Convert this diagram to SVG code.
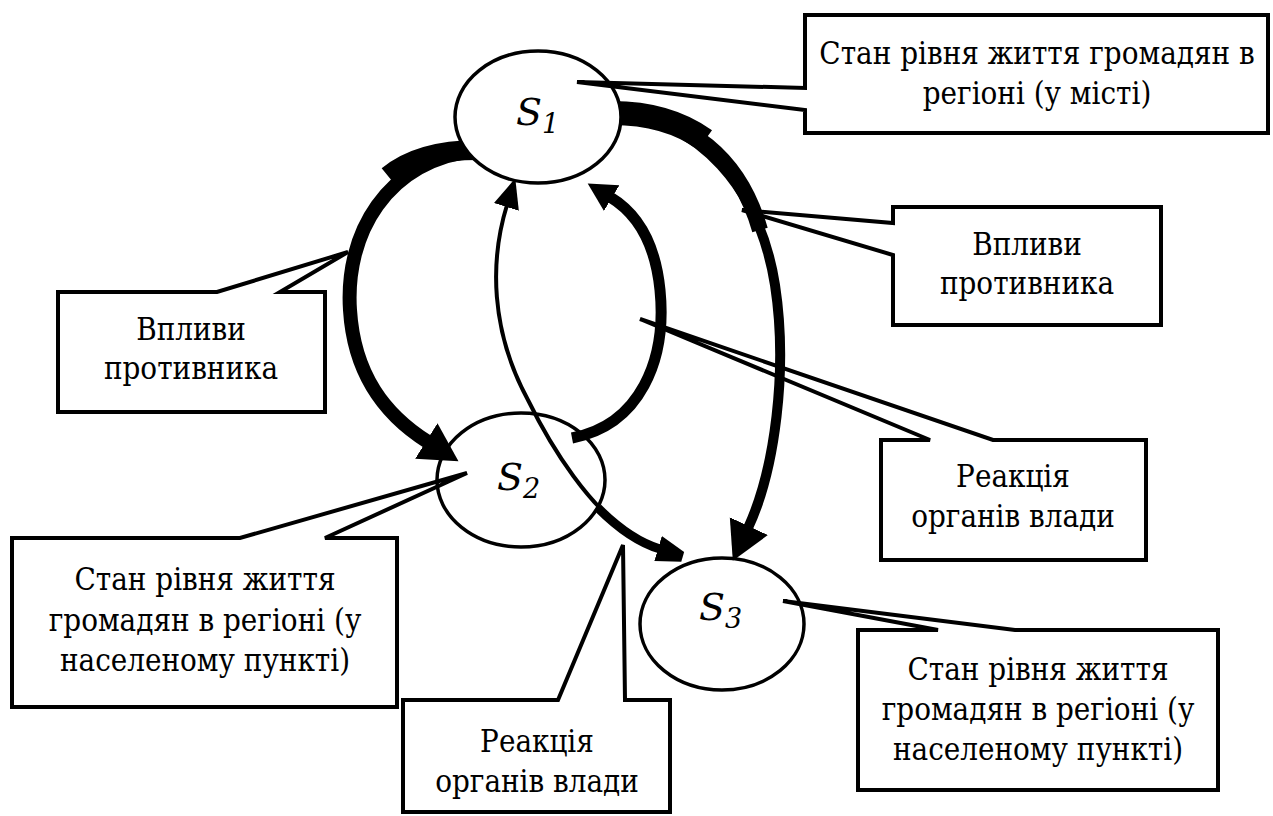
<svg xmlns="http://www.w3.org/2000/svg" width="1273" height="816" viewBox="0 0 1273 816">
<defs>
<style>
.body{fill:#fff;stroke:none}
.outline{fill:none;stroke:#000;stroke-width:4;stroke-linejoin:miter}
.ell{fill:#fff;stroke:#000;stroke-width:3.5}
.lbl{font-family:"DejaVu Serif Condensed","DejaVu Serif",serif;font-size:31px;fill:#000;text-anchor:middle}
.st{font-family:"DejaVu Serif","Liberation Serif",serif;font-style:italic;font-size:38px;fill:#000}
.sub{font-size:27px}
.arc{fill:none;stroke:#000;stroke-linecap:butt}
</style>
<marker id="hBig" markerUnits="userSpaceOnUse" markerWidth="42" markerHeight="46" viewBox="0 -23 42 46" refX="2" refY="0" orient="auto"><path d="M0,-21 L38,0 L0,21 Z"/></marker>
<marker id="hMid" markerUnits="userSpaceOnUse" markerWidth="32" markerHeight="34" viewBox="0 -17 32 34" refX="2" refY="0" orient="auto"><path d="M0,-15 L28,0 L0,15 Z"/></marker>
<marker id="hSmall" markerUnits="userSpaceOnUse" markerWidth="32" markerHeight="30" viewBox="0 -15 32 30" refX="2" refY="0" orient="auto-start-reverse"><path d="M0,-13 L30,0 L0,13 Z"/></marker>
<marker id="hBlock" markerUnits="userSpaceOnUse" markerWidth="30" markerHeight="30" viewBox="0 -15 30 30" refX="2" refY="0" orient="auto"><path d="M0,-13 L26,-4 L26,6 L0,13 Z"/></marker>
</defs>
<rect width="1273" height="816" fill="#fff"/>

<g id="node-s2">
<ellipse class="ell" cx="521" cy="480" rx="84" ry="67"/>
<text class="st" x="497" y="490">S<tspan class="sub" dy="8">2</tspan></text>
</g>
<g id="node-s3">
<ellipse class="ell" cx="722" cy="624" rx="82" ry="66"/>
<text class="st" x="699" y="620">S<tspan class="sub" dy="8">3</tspan></text>
</g>

<g id="connectors">
<path class="arc" stroke-width="20" d="M 478,150 C 440,150 410,158 388,176"/>
<path class="arc" stroke-width="14" d="M 478,150 C 385,160 345,235 350,310 C 354,375 385,415 428,442" marker-end="url(#hBig)"/>
<path class="arc" stroke-width="11" d="M 572,438 C 640,425 667,360 660,290 C 655,240 635,212 610,197" marker-end="url(#hMid)"/>
<path class="arc" stroke-width="24" d="M 612,113 C 650,113 680,122 705,140"/>
<path class="arc" stroke-width="16" d="M 612,113 C 690,115 740,160 760,230"/>
<path class="arc" stroke-width="10" d="M 612,113 C 700,118 760,190 775,285 C 788,370 775,470 748,528" marker-end="url(#hBig)"/>
<path class="arc" stroke-width="4" d="M 507,205 C 490,260 490,330 528,400 C 555,455 590,505 625,530 C 643,542 650,546 660,549" marker-start="url(#hSmall)"/>
<path class="arc" stroke-width="9" d="M 598,508 C 618,528 640,543 660,549" marker-end="url(#hBlock)"/>
</g>

<g id="node-s1">
<ellipse class="ell" cx="538" cy="117" rx="83" ry="66"/>
<text class="st" x="516" y="125">S<tspan class="sub" dy="8">1</tspan></text>
</g>

<g id="callout-top-right">
<rect class="body" x="805" y="15" width="463" height="118"/>
<path class="outline" d="M 805,88 L 805,15 L 1268,15 L 1268,133 L 805,133 L 805,110 L 577,82 Z"/>
<text class="lbl" x="1037" y="64">Стан рівня життя громадян в</text>
<text class="lbl" x="1037" y="104">регіоні (у місті)</text>
</g>

<g id="callout-left-influence">
<rect class="body" x="58" y="292" width="267" height="120"/>
<path class="outline" d="M 58,292 L 217,292 L 348,252 L 280,292 L 325,292 L 325,412 L 58,412 Z"/>
<text class="lbl" x="191" y="340">Впливи</text>
<text class="lbl" x="191" y="379">противника</text>
</g>

<g id="callout-right-influence">
<rect class="body" x="893" y="207" width="268" height="118"/>
<path class="outline" d="M 893,223 L 893,207 L 1161,207 L 1161,325 L 893,325 L 893,255 L 742,210 Z"/>
<text class="lbl" x="1027" y="255">Впливи</text>
<text class="lbl" x="1027" y="294">противника</text>
</g>

<g id="callout-right-reaction">
<rect class="body" x="881" y="440" width="265" height="120"/>
<path class="outline" d="M 881,440 L 930,440 L 640,319 L 993,440 L 1146,440 L 1146,560 L 881,560 Z"/>
<text class="lbl" x="1013" y="487">Реакція</text>
<text class="lbl" x="1013" y="527">органів влади</text>
</g>

<g id="callout-bottom-left">
<rect class="body" x="12" y="538" width="385" height="169"/>
<path class="outline" d="M 12,538 L 240,538 L 467,473 L 325,538 L 397,538 L 397,707 L 12,707 Z"/>
<text class="lbl" x="205" y="590">Стан рівня життя</text>
<text class="lbl" x="205" y="631">громадян в регіоні (у</text>
<text class="lbl" x="205" y="671">населеному пункті)</text>
</g>

<g id="callout-bottom-reaction">
<rect class="body" x="403" y="700" width="267" height="112"/>
<path class="outline" d="M 403,700 L 558,700 L 623,545 L 625,700 L 670,700 L 670,812 L 403,812 Z"/>
<text class="lbl" x="537" y="752">Реакція</text>
<text class="lbl" x="537" y="792">органів влади</text>
</g>

<g id="callout-bottom-right">
<rect class="body" x="858" y="630" width="360" height="160"/>
<path class="outline" d="M 858,630 L 938,630 L 783,601 L 1015,630 L 1218,630 L 1218,790 L 858,790 Z"/>
<text class="lbl" x="1038" y="680">Стан рівня життя</text>
<text class="lbl" x="1038" y="720">громадян в регіоні (у</text>
<text class="lbl" x="1038" y="760">населеному пункті)</text>
</g>
</svg>
